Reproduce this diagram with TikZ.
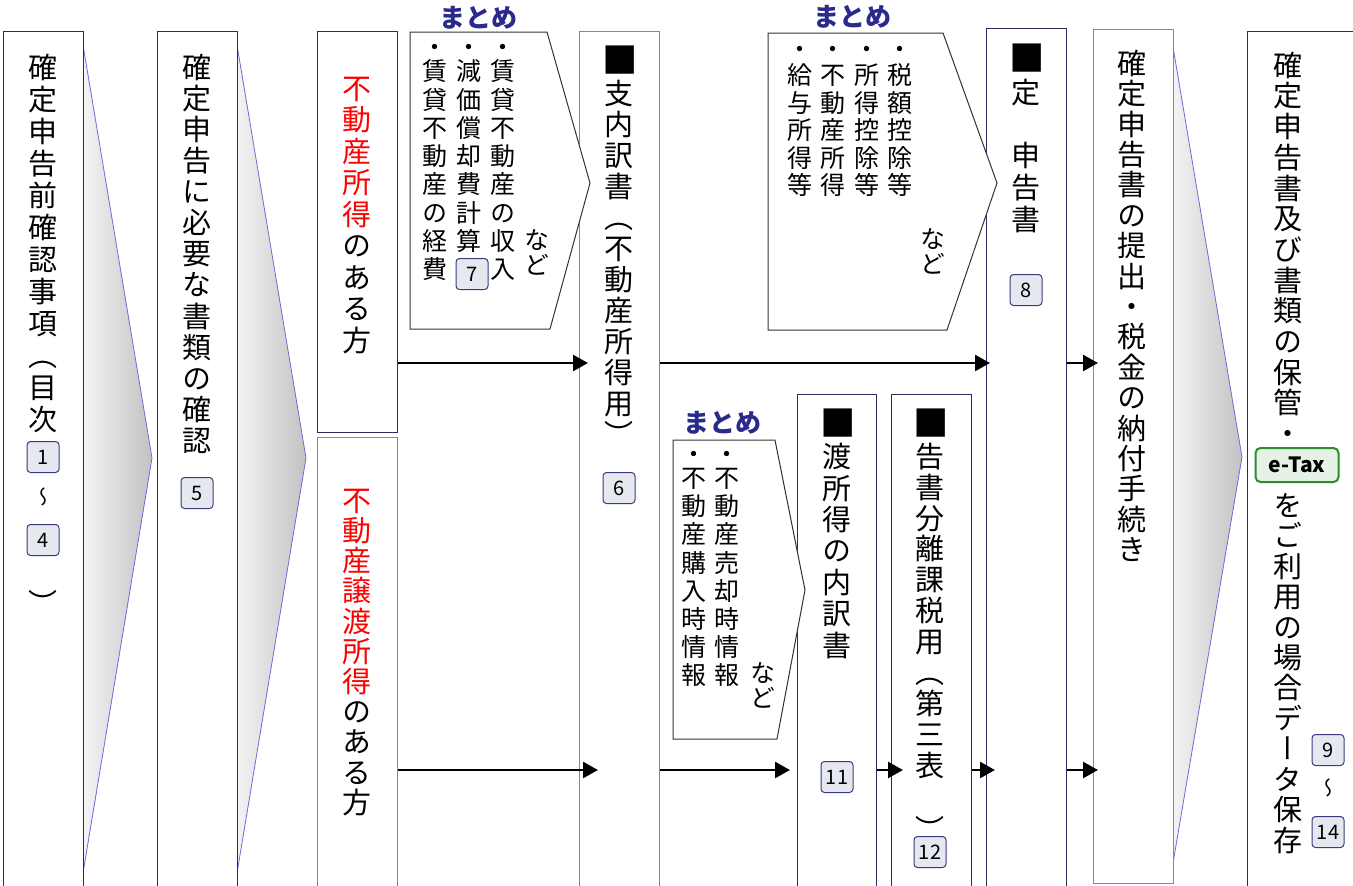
\documentclass[tikz,border=0pt]{standalone}
\usepackage{fontspec}
\setmainfont{Noto Sans CJK JP}
\newfontfamily\vfont[RawFeature=+vert]{Noto Sans CJK JP}
\usetikzlibrary{arrows.meta}
\definecolor{boxline}{HTML}{2B2B5E}
\definecolor{boxgray}{HTML}{8484A4}
\definecolor{chevline}{HTML}{6A6AE0}
\definecolor{chevL}{HTML}{F4F4F4}
\definecolor{chevR}{HTML}{C2C2C2}
\definecolor{navy}{HTML}{2A2A8C}
\definecolor{badgefill}{HTML}{E6E8F0}
\definecolor{badgeline}{HTML}{3A3A80}
\definecolor{etaxline}{HTML}{2E8B2E}
\definecolor{etaxfill}{HTML}{E6F2E6}
\definecolor{shapeline}{HTML}{333333}

\ExplSyntaxOn
\NewDocumentCommand\vt{m}
  {
    \rule{0pt}{.88em}
    \tl_head:n {#1}
    \exp_args:Ne \tl_map_inline:nn { \tl_tail:n {#1} } { \\ ##1 }
  }
\ExplSyntaxOff
\newcommand\blk{\scalebox{1.22}{■}}

\tikzset{
  box/.style={draw=boxline, line width=1pt, fill=white, anchor=north west, inner sep=0, minimum width=80pt},
  graybox/.style={box, draw=boxgray},
  chev/.style={draw=chevline, line width=0.8pt},
  sumshape/.style={draw=shapeline, line width=1pt, fill=white},
  vcol/.style={anchor=north, align=center, inner sep=0, text width=34pt, font=\vfont\fontsize{29}{#1}\selectfont},
  scol/.style={anchor=north, align=center, inner sep=0, text width=30pt, font=\vfont\fontsize{25}{#1}\selectfont},
  vsym/.style={inner sep=0, font=\vfont\fontsize{#1}{#1}\selectfont},
  dotmark/.style={inner sep=0, font=\vfont\fontsize{25}{25}\selectfont},
  num/.style={draw=badgeline, fill=badgefill, rounded corners=3.5pt, line width=1pt, minimum width=32pt, minimum height=31pt, inner sep=0, font=\fontsize{20}{20}\selectfont},
  etax/.style={draw=etaxline, fill=etaxfill, rounded corners=5pt, line width=2pt, minimum width=83pt, minimum height=34pt, inner sep=0, font=\bfseries\fontsize{21}{21}\selectfont},
  sumlabel/.style={inner sep=0, text=navy, font=\bfseries\fontsize{26}{26}\selectfont},
  arr/.style={line width=2.5pt, -{Triangle[length=15pt,width=16pt]}}
}

\begin{document}
\begin{tikzpicture}[x=1pt,y=-1pt]
\useasboundingbox (0,0) rectangle (1353,886);
\fill[white] (0,0) rectangle (1353,886);

% chevron fills
\shade[left color=chevL, right color=chevR] (83,45) -- (152,458) -- (83,873) -- cycle;
\draw[chev] (83,45) -- (152,458) -- (83,873);
\shade[left color=chevL, right color=chevR] (237,45) -- (306,458) -- (237,873) -- cycle;
\draw[chev] (237,45) -- (306,458) -- (237,873);
\shade[left color=chevL, right color=chevR] (1173,47) -- (1242,457) -- (1173,863) -- cycle;
\draw[chev] (1173,47) -- (1242,457) -- (1173,863);

% main boxes
\node[box, minimum height=870pt] (A) at (3,31) {};
\node[box, minimum height=870pt] (B) at (157,31) {};
\node[box, minimum height=401pt] (C1) at (317,31) {};
\node[graybox, minimum height=460pt] (C2) at (317,437) {};
\node[graybox, minimum height=870pt] (D) at (579,31) {};
\node[box, minimum height=870pt] (E) at (986,28) {};
\node[graybox, minimum height=854pt] (F) at (1093,29) {};
\node[box, minimum width=120pt, minimum height=870pt] (G) at (1247,31) {};
\node[box, minimum width=79pt, minimum height=500pt] (H) at (797,394) {};
\node[box, minimum height=500pt] (I) at (891,394) {};

% summary shapes
\draw[sumshape] (410,32) -- (547,32) -- (590,183) -- (550,329) -- (410,329) -- cycle;
\draw[sumshape] (768,33) -- (943,33) -- (997,183) -- (947,330) -- (768,330) -- cycle;
\draw[sumshape] (673,440) -- (775,440) -- (805,590) -- (777,739) -- (673,739) -- cycle;

\node[sumlabel] (m1) at (478,18) {まとめ};
\node[sumlabel] (m2) at (852,17) {まとめ};
\node[sumlabel] (m3) at (722,423) {まとめ};

% box A
\node[vcol=32] (tA) at (43,52.5) {\vt{確定申告前確認事項（目次}};
\node[num] (n1) at (43,457) {1};
\node[vsym=20] (wA) at (43,497) {～};
\node[num] (n4) at (43,540) {4};
\node[vsym=29] (pA) at (43,602) {）};

% box B
\node[vcol=31.1] (tB) at (197,52.5) {\vt{確定申告に必要な書類の確認}};
\node[num] (n5) at (197,493) {5};

% box C1 / C2
\node[vcol=31.5] (tC1) at (357,73.5) {\color{red}\vt{不動産所得}\\\color{black}\vt{のある方}};
\node[vcol=30.2] (tC2) at (357,485.5) {\color{red}\vt{不動産譲渡所得}\\\color{black}\vt{のある方}};

% summary 1
\node[dotmark] (d11) at (503,50) {・};
\node[dotmark] (d12) at (469,50) {・};
\node[dotmark] (d13) at (435,50) {・};
\node[scol=28.3] (s11) at (503,58.5) {\vt{賃貸不動産の収入}};
\node[scol=28.3] (s12) at (469,58.5) {\vt{減価償却費計算}};
\node[scol=28.3] (s13) at (435,58.5) {\vt{賃貸不動産の経費}};
\node[scol=25] (s14) at (537,227.5) {\vt{など}};
\node[num] (n7) at (472,274) {7};

% box D
\node[vcol=31] (tD) at (619,45.5) {\vt{{\blk}支内訳書（不動産所得用）}};
\node[num] (n6) at (619,488) {6};

% summary 2
\node[dotmark] (d21) at (900,52) {・};
\node[dotmark] (d22) at (867,52) {・};
\node[dotmark] (d23) at (833,52) {・};
\node[dotmark] (d24) at (800,52) {・};
\node[scol=27.5] (s21) at (900,62.5) {\vt{税額控除等}};
\node[scol=27.5] (s22) at (867,62.5) {\vt{所得控除等}};
\node[scol=27.5] (s23) at (833,62.5) {\vt{不動産所得}};
\node[scol=27.5] (s24) at (800,62.5) {\vt{給与所得等}};
\node[scol=25] (s25) at (933,226.5) {\vt{など}};

% box E
\node[vcol=31.8] (tE) at (1026,43.5) {\vt{{\blk}定　申告書}};
\node[num] (n8) at (1026,290) {8};

% box F
\node[vcol=30.4] (tF) at (1132,48.5) {\vt{確定申告書の提出・税金の納付手続き}};

% box G
\node[vcol=30.7] (tG1) at (1288,50.5) {\vt{確定申告書及び書類の保管・}};
\node[etax] (et) at (1297,465) {e-Tax};
\node[vcol=30.45] (tG2) at (1288,490.5) {\vt{をご利用の場合データ保存}};
\node[num] (n9) at (1328,750) {9};
\node[vsym=20] (wG) at (1328,788) {～};
\node[num] (n14) at (1328,832) {14};

% summary 3
\node[dotmark] (d31) at (727,457) {・};
\node[dotmark] (d32) at (694,457) {・};
\node[scol=28.1] (s31) at (727,465.5) {\vt{不動産売却時情報}};
\node[scol=28.1] (s32) at (694,465.5) {\vt{不動産購入時情報}};
\node[scol=25] (s33) at (763,660.5) {\vt{など}};

% box H
\node[vcol=31.4] (tH) at (837,408.5) {\vt{{\blk}渡所得の内訳書}};
\node[num] (n11) at (837,777) {11};

% box I
\node[vcol=30.9] (tI) at (930,408.5) {\vt{{\blk}告書分離課税用（第三表}};
\node[vsym=29] (pI) at (930,828) {）};
\node[num] (n12) at (930,852) {12};

% arrows
\coordinate (y1) at (0,363);
\coordinate (y2) at (0,770);
\coordinate (tD1) at ([xshift=9pt]D.west);
\coordinate (tD2) at ([xshift=19pt]D.west);
\coordinate (tE1) at ([xshift=4pt]E.west);
\coordinate (tE2) at ([xshift=9pt]E.west);
\coordinate (tF1) at ([xshift=5pt]F.west);
\coordinate (tH2) at ([xshift=-7pt]H.west);
\coordinate (tI2) at ([xshift=12pt]I.west);
\draw[arr] (C1.east |- y1) -- (tD1 |- y1);
\draw[arr] (D.east |- y1) -- (tE1 |- y1);
\draw[arr] (E.east |- y1) -- (tF1 |- y1);
\draw[arr] (C2.east |- y2) -- (tD2 |- y2);
\draw[arr] (D.east |- y2) -- (tH2 |- y2);
\draw[arr] (H.east |- y2) -- (tI2 |- y2);
\draw[arr] (I.east |- y2) -- (tE2 |- y2);
\draw[arr] (E.east |- y2) -- (tF1 |- y2);
\end{tikzpicture}
\end{document}
